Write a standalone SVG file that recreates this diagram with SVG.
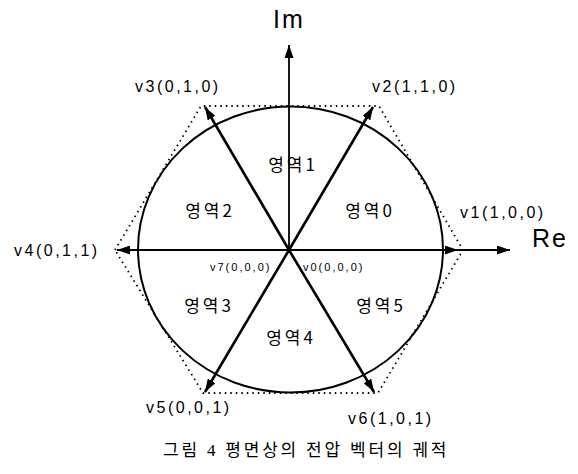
<svg xmlns="http://www.w3.org/2000/svg" width="578" height="474" viewBox="0 0 578 474">
  <style>
    .lbl { font-family: "Liberation Sans", "Noto Sans CJK KR", sans-serif; fill: #000; }
    .vec { font-size: 16px; letter-spacing: 2.5px; }
    .small { font-size: 11px; letter-spacing: 2px; }
    .axis { font-size: 25px; letter-spacing: 2px; }
    .reg { font-family: "Noto Sans CJK KR", "Liberation Sans", sans-serif; font-size: 17px; letter-spacing: 3px; text-anchor: middle; }
    .cap { font-family: "Liberation Serif", "Noto Sans CJK KR", serif; font-size: 17px; letter-spacing: 2.8px; }
    .ln { stroke: #000; fill: none; }
  </style>
  <defs>
    <marker id="ah" markerUnits="userSpaceOnUse" markerWidth="13" markerHeight="9" refX="13" refY="4.5" orient="auto">
      <path d="M0,0 L13,4.5 L0,9 z" fill="#000"/>
    </marker>
  </defs>
  <rect width="578" height="474" fill="#fff"/>

  <g id="trajectory">
    <polygon class="ln" points="115,250 201,106 379,106 463,250 378,393 203,393" stroke-width="1.8" stroke-dasharray="1.5 4"/>
    <ellipse class="ln" cx="290.5" cy="249.5" rx="152.5" ry="143" stroke-width="2"/>
  </g>

  <g id="connectors">
    <line class="ln" x1="289" y1="250" x2="289" y2="45" stroke-width="1.8" marker-end="url(#ah)"/>
    <line class="ln" x1="289" y1="250" x2="510" y2="250" stroke-width="1.8" marker-end="url(#ah)"/>
    <line class="ln" x1="289" y1="250" x2="458" y2="250" stroke-width="1.8" marker-end="url(#ah)"/>
    <line class="ln" x1="289" y1="250" x2="117" y2="250" stroke-width="1.8" marker-end="url(#ah)"/>
    <line class="ln" x1="289" y1="250" x2="373" y2="107" stroke-width="2.6" marker-end="url(#ah)"/>
    <line class="ln" x1="289" y1="250" x2="205" y2="107" stroke-width="2.6" marker-end="url(#ah)"/>
    <line class="ln" x1="289" y1="250" x2="205" y2="392" stroke-width="2.6" marker-end="url(#ah)"/>
    <line class="ln" x1="289" y1="250" x2="374" y2="392" stroke-width="2.6" marker-end="url(#ah)"/>
  </g>

  <g id="axis-im"><text class="lbl axis" x="289" y="28" text-anchor="middle">Im</text></g>
  <g id="axis-re"><text class="lbl axis" x="532" y="247">Re</text></g>

  <g id="v1"><text class="lbl vec" x="460" y="218">v1(1,0,0)</text></g>
  <g id="v2"><text class="lbl vec" x="372" y="92">v2(1,1,0)</text></g>
  <g id="v3"><text class="lbl vec" x="135" y="92">v3(0,1,0)</text></g>
  <g id="v4"><text class="lbl vec" x="14" y="256">v4(0,1,1)</text></g>
  <g id="v5"><text class="lbl vec" x="146" y="413">v5(0,0,1)</text></g>
  <g id="v6"><text class="lbl vec" x="348" y="424">v6(1,0,1)</text></g>
  <g id="v7"><text class="lbl small" x="210" y="271">v7(0,0,0)</text></g>
  <g id="v0"><text class="lbl small" x="303" y="271">v0(0,0,0)</text></g>

  <g id="region0"><text class="reg" x="370" y="217">영역0</text></g>
  <g id="region1"><text class="reg" x="293" y="171">영역1</text></g>
  <g id="region2"><text class="reg" x="210" y="217">영역2</text></g>
  <g id="region3"><text class="reg" x="209" y="312">영역3</text></g>
  <g id="region4"><text class="reg" x="291" y="344">영역4</text></g>
  <g id="region5"><text class="reg" x="381" y="312">영역5</text></g>

  <g id="caption"><text class="cap" x="163" y="456">그림 4 평면상의 전압 벡터의 궤적</text></g>
</svg>
